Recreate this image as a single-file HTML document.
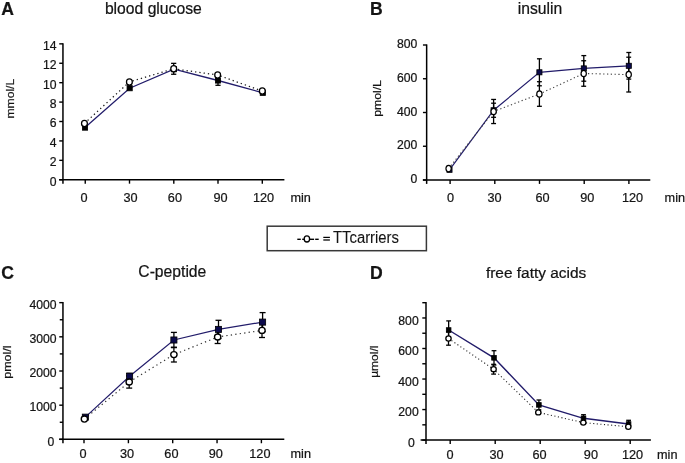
<!DOCTYPE html>
<html><head><meta charset="utf-8"><style>
html,body{margin:0;padding:0;background:#fff;overflow:hidden;}
svg{display:block;will-change:transform;}
text{font-family:"Liberation Sans",sans-serif;fill:#141414;stroke:#141414;stroke-width:0.22px;}
</style></head><body>
<svg width="685" height="463" viewBox="0 0 685 463">
<rect width="685" height="463" fill="#fff"/>
<line x1="62.95" y1="43.25" x2="62.95" y2="183.65" stroke="#000" stroke-width="1.5" />
<line x1="59.15" y1="179.75" x2="284.4" y2="179.75" stroke="#000" stroke-width="1.5" />
<line x1="59.25" y1="179.75" x2="62.95" y2="179.75" stroke="#000" stroke-width="1.4" />
<line x1="59.25" y1="160.34" x2="62.95" y2="160.34" stroke="#000" stroke-width="1.4" />
<line x1="59.25" y1="140.92" x2="62.95" y2="140.92" stroke="#000" stroke-width="1.4" />
<line x1="59.25" y1="121.51" x2="62.95" y2="121.51" stroke="#000" stroke-width="1.4" />
<line x1="59.25" y1="102.09" x2="62.95" y2="102.09" stroke="#000" stroke-width="1.4" />
<line x1="59.25" y1="82.68" x2="62.95" y2="82.68" stroke="#000" stroke-width="1.4" />
<line x1="59.25" y1="63.26" x2="62.95" y2="63.26" stroke="#000" stroke-width="1.4" />
<line x1="59.25" y1="43.85" x2="62.95" y2="43.85" stroke="#000" stroke-width="1.4" />
<text x="56.6" y="185.65" font-size="12.2" text-anchor="end" font-weight="normal" >0</text>
<text x="56.6" y="166.24" font-size="12.2" text-anchor="end" font-weight="normal" >2</text>
<text x="56.6" y="146.82" font-size="12.2" text-anchor="end" font-weight="normal" >4</text>
<text x="56.6" y="127.41" font-size="12.2" text-anchor="end" font-weight="normal" >6</text>
<text x="56.6" y="107.99" font-size="12.2" text-anchor="end" font-weight="normal" >8</text>
<text x="56.6" y="88.58" font-size="12.2" text-anchor="end" font-weight="normal" >10</text>
<text x="56.6" y="69.16" font-size="12.2" text-anchor="end" font-weight="normal" >12</text>
<text x="56.6" y="49.75" font-size="12.2" text-anchor="end" font-weight="normal" >14</text>
<line x1="85.25" y1="179.75" x2="85.25" y2="183.65" stroke="#000" stroke-width="1.4" />
<line x1="129.5" y1="179.75" x2="129.5" y2="183.65" stroke="#000" stroke-width="1.4" />
<line x1="173.8" y1="179.75" x2="173.8" y2="183.65" stroke="#000" stroke-width="1.4" />
<line x1="218" y1="179.75" x2="218" y2="183.65" stroke="#000" stroke-width="1.4" />
<line x1="262.3" y1="179.75" x2="262.3" y2="183.65" stroke="#000" stroke-width="1.4" />
<text x="84" y="202" font-size="12.7" text-anchor="middle" font-weight="normal" >0</text>
<text x="130.5" y="202" font-size="12.7" text-anchor="middle" font-weight="normal" >30</text>
<text x="174.9" y="202" font-size="12.7" text-anchor="middle" font-weight="normal" >60</text>
<text x="220.5" y="202" font-size="12.7" text-anchor="middle" font-weight="normal" >90</text>
<text x="263.5" y="202" font-size="12.7" text-anchor="middle" font-weight="normal" >120</text>
<text x="290.4" y="202" font-size="12.7" text-anchor="start" font-weight="normal" >min</text>
<text transform="translate(13.9,98.7) rotate(-90)" font-size="11.8" text-anchor="middle" textLength="39.8" lengthAdjust="spacingAndGlyphs">mmol/L</text>
<text x="1.25" y="14.9" font-size="17.6" text-anchor="start" font-weight="bold" >A</text>
<text x="104.9" y="13.7" font-size="15.7" text-anchor="start" font-weight="normal" >blood glucose</text>
<line x1="218" y1="75.7" x2="218" y2="85.3" stroke="#000" stroke-width="1.3" />
<line x1="215.4" y1="75.7" x2="220.6" y2="75.7" stroke="#000" stroke-width="1.3" />
<line x1="215.4" y1="85.3" x2="220.6" y2="85.3" stroke="#000" stroke-width="1.3" />
<line x1="173.7" y1="63.35" x2="173.7" y2="74.25" stroke="#000" stroke-width="1.3" />
<line x1="171.1" y1="63.35" x2="176.3" y2="63.35" stroke="#000" stroke-width="1.3" />
<line x1="171.1" y1="74.25" x2="176.3" y2="74.25" stroke="#000" stroke-width="1.3" />
<polyline points="85,127.6 129.65,88.2 174,69.2 218,80.5 262.8,92.8" fill="none" stroke="#221c6a" stroke-width="1.3"/>
<polyline points="84.45,123.45 129.4,81.9 173.7,68.8 217.65,75 262.3,91.1" fill="none" stroke="#1a1a1a" stroke-width="1.25" stroke-dasharray="1.3 3.0"/>
<rect x="82.4" y="125" width="5.2" height="5.2" fill="#000" stroke="#000" stroke-width="0.8"/>
<rect x="127.05" y="85.6" width="5.2" height="5.2" fill="#000" stroke="#000" stroke-width="0.8"/>
<rect x="171.4" y="66.6" width="5.2" height="5.2" fill="#000" stroke="#000" stroke-width="0.8"/>
<rect x="215.4" y="77.9" width="5.2" height="5.2" fill="#000" stroke="#000" stroke-width="0.8"/>
<rect x="260.2" y="90.2" width="5.2" height="5.2" fill="#000" stroke="#000" stroke-width="0.8"/>
<ellipse cx="84.45" cy="123.45" rx="2.92" ry="3.12" fill="#fff" stroke="#000" stroke-width="1.25"/>
<ellipse cx="129.4" cy="81.9" rx="2.92" ry="3.12" fill="#fff" stroke="#000" stroke-width="1.25"/>
<ellipse cx="173.7" cy="68.8" rx="2.92" ry="3.12" fill="#fff" stroke="#000" stroke-width="1.25"/>
<ellipse cx="217.65" cy="75" rx="2.92" ry="3.12" fill="#fff" stroke="#000" stroke-width="1.25"/>
<ellipse cx="262.3" cy="91.1" rx="2.92" ry="3.12" fill="#fff" stroke="#000" stroke-width="1.25"/>
<line x1="426.65" y1="44.4" x2="426.65" y2="183.9" stroke="#000" stroke-width="1.5" />
<line x1="422.85" y1="180" x2="650.3" y2="180" stroke="#000" stroke-width="1.5" />
<line x1="422.95" y1="180" x2="426.65" y2="180" stroke="#000" stroke-width="1.4" />
<line x1="422.95" y1="146.25" x2="426.65" y2="146.25" stroke="#000" stroke-width="1.4" />
<line x1="422.95" y1="112.5" x2="426.65" y2="112.5" stroke="#000" stroke-width="1.4" />
<line x1="422.95" y1="78.75" x2="426.65" y2="78.75" stroke="#000" stroke-width="1.4" />
<line x1="422.95" y1="45" x2="426.65" y2="45" stroke="#000" stroke-width="1.4" />
<text x="417.4" y="183" font-size="12.2" text-anchor="end" font-weight="normal" >0</text>
<text x="417.4" y="149.25" font-size="12.2" text-anchor="end" font-weight="normal" >200</text>
<text x="417.4" y="115.5" font-size="12.2" text-anchor="end" font-weight="normal" >400</text>
<text x="417.4" y="81.75" font-size="12.2" text-anchor="end" font-weight="normal" >600</text>
<text x="417.4" y="48" font-size="12.2" text-anchor="end" font-weight="normal" >800</text>
<line x1="450.1" y1="180" x2="450.1" y2="183.9" stroke="#000" stroke-width="1.4" />
<line x1="494.8" y1="180" x2="494.8" y2="183.9" stroke="#000" stroke-width="1.4" />
<line x1="539.5" y1="180" x2="539.5" y2="183.9" stroke="#000" stroke-width="1.4" />
<line x1="584.2" y1="180" x2="584.2" y2="183.9" stroke="#000" stroke-width="1.4" />
<line x1="628.9" y1="180" x2="628.9" y2="183.9" stroke="#000" stroke-width="1.4" />
<text x="450.5" y="202" font-size="12.7" text-anchor="middle" font-weight="normal" >0</text>
<text x="494.6" y="202" font-size="12.7" text-anchor="middle" font-weight="normal" >30</text>
<text x="542.5" y="202" font-size="12.7" text-anchor="middle" font-weight="normal" >60</text>
<text x="587.2" y="202" font-size="12.7" text-anchor="middle" font-weight="normal" >90</text>
<text x="632.6" y="202" font-size="12.7" text-anchor="middle" font-weight="normal" >120</text>
<text x="664.6" y="202" font-size="12.7" text-anchor="start" font-weight="normal" >min</text>
<text transform="translate(381.2,98.45) rotate(-90)" font-size="11.8" text-anchor="middle" textLength="36.7" lengthAdjust="spacingAndGlyphs">pmol/L</text>
<text x="370.1" y="14.8" font-size="17.6" text-anchor="start" font-weight="bold" >B</text>
<text x="517.8" y="13.8" font-size="15.7" text-anchor="start" font-weight="normal" >insulin</text>
<line x1="493.6" y1="103.2" x2="493.6" y2="117.3" stroke="#000" stroke-width="1.3" />
<line x1="491.15" y1="103.2" x2="496.05" y2="103.2" stroke="#000" stroke-width="1.3" />
<line x1="491.15" y1="117.3" x2="496.05" y2="117.3" stroke="#000" stroke-width="1.3" />
<line x1="539.4" y1="58.8" x2="539.4" y2="85.8" stroke="#000" stroke-width="1.3" />
<line x1="536.95" y1="58.8" x2="541.85" y2="58.8" stroke="#000" stroke-width="1.3" />
<line x1="536.95" y1="85.8" x2="541.85" y2="85.8" stroke="#000" stroke-width="1.3" />
<line x1="583.8" y1="55.6" x2="583.8" y2="81.2" stroke="#000" stroke-width="1.3" />
<line x1="581.35" y1="55.6" x2="586.25" y2="55.6" stroke="#000" stroke-width="1.3" />
<line x1="581.35" y1="81.2" x2="586.25" y2="81.2" stroke="#000" stroke-width="1.3" />
<line x1="628.8" y1="52.5" x2="628.8" y2="79.1" stroke="#000" stroke-width="1.3" />
<line x1="626.35" y1="52.5" x2="631.25" y2="52.5" stroke="#000" stroke-width="1.3" />
<line x1="626.35" y1="79.1" x2="631.25" y2="79.1" stroke="#000" stroke-width="1.3" />
<line x1="493.6" y1="99.45" x2="493.6" y2="123.55" stroke="#000" stroke-width="1.3" />
<line x1="491.15" y1="99.45" x2="496.05" y2="99.45" stroke="#000" stroke-width="1.3" />
<line x1="491.15" y1="123.55" x2="496.05" y2="123.55" stroke="#000" stroke-width="1.3" />
<line x1="539.4" y1="81.7" x2="539.4" y2="106.3" stroke="#000" stroke-width="1.3" />
<line x1="536.95" y1="81.7" x2="541.85" y2="81.7" stroke="#000" stroke-width="1.3" />
<line x1="536.95" y1="106.3" x2="541.85" y2="106.3" stroke="#000" stroke-width="1.3" />
<line x1="583.7" y1="60.75" x2="583.7" y2="86.25" stroke="#000" stroke-width="1.3" />
<line x1="581.25" y1="60.75" x2="586.15" y2="60.75" stroke="#000" stroke-width="1.3" />
<line x1="581.25" y1="86.25" x2="586.15" y2="86.25" stroke="#000" stroke-width="1.3" />
<line x1="628.7" y1="57.2" x2="628.7" y2="92" stroke="#000" stroke-width="1.3" />
<line x1="626.25" y1="57.2" x2="631.15" y2="57.2" stroke="#000" stroke-width="1.3" />
<line x1="626.25" y1="92" x2="631.15" y2="92" stroke="#000" stroke-width="1.3" />
<polyline points="449.5,169.8 493.6,110.25 539.4,72.3 583.8,68.4 628.8,65.8" fill="none" stroke="#221c6a" stroke-width="1.2"/>
<polyline points="448.6,168.6 493.6,111.5 539.4,94 583.7,73.5 628.7,74.6" fill="none" stroke="#444" stroke-width="1.1" stroke-dasharray="1.3 2.5"/>
<rect x="446.95" y="167.25" width="5.1" height="5.1" fill="#0b0a4c" stroke="#000" stroke-width="0.8"/>
<rect x="491.05" y="107.7" width="5.1" height="5.1" fill="#0b0a4c" stroke="#000" stroke-width="0.8"/>
<rect x="536.85" y="69.75" width="5.1" height="5.1" fill="#0b0a4c" stroke="#000" stroke-width="0.8"/>
<rect x="581.25" y="65.85" width="5.1" height="5.1" fill="#0b0a4c" stroke="#000" stroke-width="0.8"/>
<rect x="626.25" y="63.25" width="5.1" height="5.1" fill="#0b0a4c" stroke="#000" stroke-width="0.8"/>
<ellipse cx="448.6" cy="168.6" rx="2.65" ry="3.2" fill="#fff" stroke="#000" stroke-width="1.2"/>
<ellipse cx="493.6" cy="111.5" rx="2.65" ry="3.2" fill="#fff" stroke="#000" stroke-width="1.2"/>
<ellipse cx="539.4" cy="94" rx="2.65" ry="3.2" fill="#fff" stroke="#000" stroke-width="1.2"/>
<ellipse cx="583.7" cy="73.5" rx="2.65" ry="3.2" fill="#fff" stroke="#000" stroke-width="1.2"/>
<ellipse cx="628.7" cy="74.6" rx="2.65" ry="3.2" fill="#fff" stroke="#000" stroke-width="1.2"/>
<line x1="62.95" y1="302.05" x2="62.95" y2="443.25" stroke="#000" stroke-width="1.5" />
<line x1="59.15" y1="439.35" x2="284.3" y2="439.35" stroke="#000" stroke-width="1.5" />
<line x1="59.25" y1="439.35" x2="62.95" y2="439.35" stroke="#000" stroke-width="1.4" />
<line x1="59.25" y1="405.18" x2="62.95" y2="405.18" stroke="#000" stroke-width="1.4" />
<line x1="59.25" y1="371" x2="62.95" y2="371" stroke="#000" stroke-width="1.4" />
<line x1="59.25" y1="336.82" x2="62.95" y2="336.82" stroke="#000" stroke-width="1.4" />
<line x1="59.25" y1="302.65" x2="62.95" y2="302.65" stroke="#000" stroke-width="1.4" />
<line x1="59.75" y1="422.26" x2="62.95" y2="422.26" stroke="#000" stroke-width="1.4" />
<line x1="59.75" y1="388.09" x2="62.95" y2="388.09" stroke="#000" stroke-width="1.4" />
<line x1="59.75" y1="353.91" x2="62.95" y2="353.91" stroke="#000" stroke-width="1.4" />
<line x1="59.75" y1="319.74" x2="62.95" y2="319.74" stroke="#000" stroke-width="1.4" />
<text x="54.2" y="445.65" font-size="12.2" text-anchor="end" font-weight="normal" >0</text>
<text x="56.5" y="411.48" font-size="12.2" text-anchor="end" font-weight="normal" >1000</text>
<text x="56.5" y="377.3" font-size="12.2" text-anchor="end" font-weight="normal" >2000</text>
<text x="56.5" y="343.12" font-size="12.2" text-anchor="end" font-weight="normal" >3000</text>
<text x="56.5" y="308.95" font-size="12.2" text-anchor="end" font-weight="normal" >4000</text>
<line x1="84" y1="439.35" x2="84" y2="443.25" stroke="#000" stroke-width="1.4" />
<line x1="128.4" y1="439.35" x2="128.4" y2="443.25" stroke="#000" stroke-width="1.4" />
<line x1="172.7" y1="439.35" x2="172.7" y2="443.25" stroke="#000" stroke-width="1.4" />
<line x1="217.05" y1="439.35" x2="217.05" y2="443.25" stroke="#000" stroke-width="1.4" />
<line x1="261.4" y1="439.35" x2="261.4" y2="443.25" stroke="#000" stroke-width="1.4" />
<text x="83.15" y="458.3" font-size="12.7" text-anchor="middle" font-weight="normal" >0</text>
<text x="127" y="458.3" font-size="12.7" text-anchor="middle" font-weight="normal" >30</text>
<text x="171.4" y="458.3" font-size="12.7" text-anchor="middle" font-weight="normal" >60</text>
<text x="215.75" y="458.3" font-size="12.7" text-anchor="middle" font-weight="normal" >90</text>
<text x="259.9" y="458.3" font-size="12.7" text-anchor="middle" font-weight="normal" >120</text>
<text x="290.5" y="458.3" font-size="12.7" text-anchor="start" font-weight="normal" >min</text>
<text transform="translate(11.2,362.1) rotate(-90)" font-size="11.8" text-anchor="middle" textLength="33.4" lengthAdjust="spacingAndGlyphs">pmol/l</text>
<text x="1.2" y="278.8" font-size="17.6" text-anchor="start" font-weight="bold" >C</text>
<text x="138.3" y="276.9" font-size="15.7" text-anchor="start" font-weight="normal" >C-peptide</text>
<line x1="129.6" y1="373.4" x2="129.6" y2="379" stroke="#000" stroke-width="1.3" />
<line x1="126.6" y1="373.4" x2="132.6" y2="373.4" stroke="#000" stroke-width="1.3" />
<line x1="126.6" y1="379" x2="132.6" y2="379" stroke="#000" stroke-width="1.3" />
<line x1="173.9" y1="332.4" x2="173.9" y2="347.6" stroke="#000" stroke-width="1.3" />
<line x1="170.9" y1="332.4" x2="176.9" y2="332.4" stroke="#000" stroke-width="1.3" />
<line x1="170.9" y1="347.6" x2="176.9" y2="347.6" stroke="#000" stroke-width="1.3" />
<line x1="218.5" y1="320.3" x2="218.5" y2="338.5" stroke="#000" stroke-width="1.3" />
<line x1="215.5" y1="320.3" x2="221.5" y2="320.3" stroke="#000" stroke-width="1.3" />
<line x1="215.5" y1="338.5" x2="221.5" y2="338.5" stroke="#000" stroke-width="1.3" />
<line x1="262.6" y1="312.6" x2="262.6" y2="331.6" stroke="#000" stroke-width="1.3" />
<line x1="259.6" y1="312.6" x2="265.6" y2="312.6" stroke="#000" stroke-width="1.3" />
<line x1="259.6" y1="331.6" x2="265.6" y2="331.6" stroke="#000" stroke-width="1.3" />
<line x1="129.2" y1="375.9" x2="129.2" y2="388.1" stroke="#000" stroke-width="1.3" />
<line x1="126.2" y1="375.9" x2="132.2" y2="375.9" stroke="#000" stroke-width="1.3" />
<line x1="126.2" y1="388.1" x2="132.2" y2="388.1" stroke="#000" stroke-width="1.3" />
<line x1="173.9" y1="347.2" x2="173.9" y2="362" stroke="#000" stroke-width="1.3" />
<line x1="170.9" y1="347.2" x2="176.9" y2="347.2" stroke="#000" stroke-width="1.3" />
<line x1="170.9" y1="362" x2="176.9" y2="362" stroke="#000" stroke-width="1.3" />
<line x1="217.65" y1="330.5" x2="217.65" y2="343.5" stroke="#000" stroke-width="1.3" />
<line x1="214.65" y1="330.5" x2="220.65" y2="330.5" stroke="#000" stroke-width="1.3" />
<line x1="214.65" y1="343.5" x2="220.65" y2="343.5" stroke="#000" stroke-width="1.3" />
<line x1="262" y1="323.3" x2="262" y2="337.5" stroke="#000" stroke-width="1.3" />
<line x1="259" y1="323.3" x2="265" y2="323.3" stroke="#000" stroke-width="1.3" />
<line x1="259" y1="337.5" x2="265" y2="337.5" stroke="#000" stroke-width="1.3" />
<polyline points="85.35,417.15 129.6,376.2 173.9,340 218.5,329.4 262.6,322.1" fill="none" stroke="#221c6a" stroke-width="1.2"/>
<polyline points="84.4,419.05 129.2,382 173.9,354.6 217.65,337 262,330.4" fill="none" stroke="#333" stroke-width="1.2" stroke-dasharray="1.3 3.2"/>
<rect x="82.3" y="414.1" width="6.1" height="6.1" fill="#0b0a4c" stroke="#000" stroke-width="0.8"/>
<rect x="126.55" y="373.15" width="6.1" height="6.1" fill="#0b0a4c" stroke="#000" stroke-width="0.8"/>
<rect x="170.85" y="336.95" width="6.1" height="6.1" fill="#0b0a4c" stroke="#000" stroke-width="0.8"/>
<rect x="215.45" y="326.35" width="6.1" height="6.1" fill="#0b0a4c" stroke="#000" stroke-width="0.8"/>
<rect x="259.55" y="319.05" width="6.1" height="6.1" fill="#0b0a4c" stroke="#000" stroke-width="0.8"/>
<ellipse cx="84.4" cy="419.05" rx="3.17" ry="3.03" fill="#fff" stroke="#000" stroke-width="1.35"/>
<ellipse cx="129.2" cy="382" rx="3.17" ry="3.03" fill="#fff" stroke="#000" stroke-width="1.35"/>
<ellipse cx="173.9" cy="354.6" rx="3.17" ry="3.03" fill="#fff" stroke="#000" stroke-width="1.35"/>
<ellipse cx="217.65" cy="337" rx="3.17" ry="3.03" fill="#fff" stroke="#000" stroke-width="1.35"/>
<ellipse cx="262" cy="330.4" rx="3.17" ry="3.03" fill="#fff" stroke="#000" stroke-width="1.35"/>
<line x1="426" y1="302.1" x2="426" y2="444" stroke="#000" stroke-width="1.5" />
<line x1="420.6" y1="440.1" x2="650.9" y2="440.1" stroke="#000" stroke-width="1.5" />
<line x1="422.3" y1="440.1" x2="426" y2="440.1" stroke="#000" stroke-width="1.4" />
<line x1="422.3" y1="424.83" x2="426" y2="424.83" stroke="#000" stroke-width="1.4" />
<line x1="422.3" y1="409.57" x2="426" y2="409.57" stroke="#000" stroke-width="1.4" />
<line x1="422.3" y1="394.3" x2="426" y2="394.3" stroke="#000" stroke-width="1.4" />
<line x1="422.3" y1="379.03" x2="426" y2="379.03" stroke="#000" stroke-width="1.4" />
<line x1="422.3" y1="363.77" x2="426" y2="363.77" stroke="#000" stroke-width="1.4" />
<line x1="422.3" y1="348.5" x2="426" y2="348.5" stroke="#000" stroke-width="1.4" />
<line x1="422.3" y1="333.23" x2="426" y2="333.23" stroke="#000" stroke-width="1.4" />
<line x1="422.3" y1="317.97" x2="426" y2="317.97" stroke="#000" stroke-width="1.4" />
<line x1="422.3" y1="302.7" x2="426" y2="302.7" stroke="#000" stroke-width="1.4" />
<text x="414.9" y="446.7" font-size="12.2" text-anchor="end" font-weight="normal" >0</text>
<text x="418.7" y="416.17" font-size="12.2" text-anchor="end" font-weight="normal" >200</text>
<text x="418.7" y="385.63" font-size="12.2" text-anchor="end" font-weight="normal" >400</text>
<text x="418.7" y="355.1" font-size="12.2" text-anchor="end" font-weight="normal" >600</text>
<text x="418.7" y="324.57" font-size="12.2" text-anchor="end" font-weight="normal" >800</text>
<line x1="450.2" y1="440.1" x2="450.2" y2="444" stroke="#000" stroke-width="1.4" />
<line x1="495.2" y1="440.1" x2="495.2" y2="444" stroke="#000" stroke-width="1.4" />
<line x1="540.2" y1="440.1" x2="540.2" y2="444" stroke="#000" stroke-width="1.4" />
<line x1="585.2" y1="440.1" x2="585.2" y2="444" stroke="#000" stroke-width="1.4" />
<line x1="630.2" y1="440.1" x2="630.2" y2="444" stroke="#000" stroke-width="1.4" />
<text x="450.05" y="458.7" font-size="12.7" text-anchor="middle" font-weight="normal" >0</text>
<text x="496.5" y="458.7" font-size="12.7" text-anchor="middle" font-weight="normal" >30</text>
<text x="539.5" y="458.7" font-size="12.7" text-anchor="middle" font-weight="normal" >60</text>
<text x="590.9" y="458.7" font-size="12.7" text-anchor="middle" font-weight="normal" >90</text>
<text x="632.5" y="458.7" font-size="12.7" text-anchor="middle" font-weight="normal" >120</text>
<text x="657" y="458.7" font-size="12.7" text-anchor="start" font-weight="normal" >min</text>
<text transform="translate(377.9,361.7) rotate(-90)" font-size="11.4" text-anchor="middle" textLength="32.2" lengthAdjust="spacingAndGlyphs">&#181;mol/l</text>
<text x="370.1" y="278.7" font-size="17.6" text-anchor="start" font-weight="bold" >D</text>
<text x="485.9" y="278.4" font-size="15.45" text-anchor="start" font-weight="normal" >free fatty acids</text>
<line x1="448.65" y1="320.9" x2="448.65" y2="339.1" stroke="#000" stroke-width="1.3" />
<line x1="446.25" y1="320.9" x2="451.05" y2="320.9" stroke="#000" stroke-width="1.3" />
<line x1="446.25" y1="339.1" x2="451.05" y2="339.1" stroke="#000" stroke-width="1.3" />
<line x1="494" y1="350.7" x2="494" y2="365" stroke="#000" stroke-width="1.3" />
<line x1="491.6" y1="350.7" x2="496.4" y2="350.7" stroke="#000" stroke-width="1.3" />
<line x1="491.6" y1="365" x2="496.4" y2="365" stroke="#000" stroke-width="1.3" />
<line x1="538.9" y1="400" x2="538.9" y2="409.8" stroke="#000" stroke-width="1.3" />
<line x1="536.5" y1="400" x2="541.3" y2="400" stroke="#000" stroke-width="1.3" />
<line x1="536.5" y1="409.8" x2="541.3" y2="409.8" stroke="#000" stroke-width="1.3" />
<line x1="583.5" y1="414.7" x2="583.5" y2="421.9" stroke="#000" stroke-width="1.3" />
<line x1="581.1" y1="414.7" x2="585.9" y2="414.7" stroke="#000" stroke-width="1.3" />
<line x1="581.1" y1="421.9" x2="585.9" y2="421.9" stroke="#000" stroke-width="1.3" />
<line x1="628.6" y1="420.3" x2="628.6" y2="427.7" stroke="#000" stroke-width="1.3" />
<line x1="626.2" y1="420.3" x2="631" y2="420.3" stroke="#000" stroke-width="1.3" />
<line x1="626.2" y1="427.7" x2="631" y2="427.7" stroke="#000" stroke-width="1.3" />
<line x1="448.5" y1="331.8" x2="448.5" y2="345.2" stroke="#000" stroke-width="1.3" />
<line x1="446.1" y1="331.8" x2="450.9" y2="331.8" stroke="#000" stroke-width="1.3" />
<line x1="446.1" y1="345.2" x2="450.9" y2="345.2" stroke="#000" stroke-width="1.3" />
<line x1="493.6" y1="364.3" x2="493.6" y2="374.1" stroke="#000" stroke-width="1.3" />
<line x1="491.2" y1="364.3" x2="496" y2="364.3" stroke="#000" stroke-width="1.3" />
<line x1="491.2" y1="374.1" x2="496" y2="374.1" stroke="#000" stroke-width="1.3" />
<polyline points="448.65,330 494,357.85 538.9,404.9 583.5,418.3 628.6,424" fill="none" stroke="#221c6a" stroke-width="1.4"/>
<polyline points="448.5,338.5 493.6,369.2 538.3,412.4 583.3,422.6 628.3,426.75" fill="none" stroke="#222" stroke-width="1.1" stroke-dasharray="1.1 2.5"/>
<rect x="446.35" y="327.7" width="4.6" height="4.6" fill="#000" stroke="#000" stroke-width="0.8"/>
<rect x="491.7" y="355.55" width="4.6" height="4.6" fill="#000" stroke="#000" stroke-width="0.8"/>
<rect x="536.6" y="402.6" width="4.6" height="4.6" fill="#000" stroke="#000" stroke-width="0.8"/>
<rect x="581.2" y="416" width="4.6" height="4.6" fill="#000" stroke="#000" stroke-width="0.8"/>
<rect x="626.3" y="421.7" width="4.6" height="4.6" fill="#000" stroke="#000" stroke-width="0.8"/>
<ellipse cx="448.5" cy="338.5" rx="2.65" ry="2.55" fill="#fff" stroke="#000" stroke-width="1.3"/>
<ellipse cx="493.6" cy="369.2" rx="2.65" ry="2.55" fill="#fff" stroke="#000" stroke-width="1.3"/>
<ellipse cx="538.3" cy="412.4" rx="2.65" ry="2.55" fill="#fff" stroke="#000" stroke-width="1.3"/>
<ellipse cx="583.3" cy="422.6" rx="2.65" ry="2.55" fill="#fff" stroke="#000" stroke-width="1.3"/>
<ellipse cx="628.3" cy="426.75" rx="2.65" ry="2.55" fill="#fff" stroke="#000" stroke-width="1.3"/>
<rect x="267.2" y="226.2" width="159.2" height="24.5" fill="none" stroke="#383838" stroke-width="1.5"/>
<line x1="297.3" y1="239.3" x2="300.8" y2="239.3" stroke="#000" stroke-width="1.4" />
<line x1="302.2" y1="239.3" x2="304.2" y2="239.3" stroke="#000" stroke-width="1.4" />
<line x1="309.6" y1="239.3" x2="314.1" y2="239.3" stroke="#000" stroke-width="1.4" />
<line x1="315.2" y1="239.3" x2="318.7" y2="239.3" stroke="#000" stroke-width="1.4" />
<ellipse cx="306.9" cy="238.95" rx="2.7" ry="3.05" fill="#fff" stroke="#000" stroke-width="1.3"/>
<line x1="323.3" y1="237.4" x2="329.9" y2="237.4" stroke="#000" stroke-width="1.25" />
<line x1="323.3" y1="240" x2="329.9" y2="240" stroke="#000" stroke-width="1.25" />
<text x="333" y="242.9" font-size="15.8" text-anchor="start" font-weight="normal" style="stroke-width:0.1px" textLength="66" lengthAdjust="spacingAndGlyphs">TTcarriers</text>
</svg>
</body></html>
